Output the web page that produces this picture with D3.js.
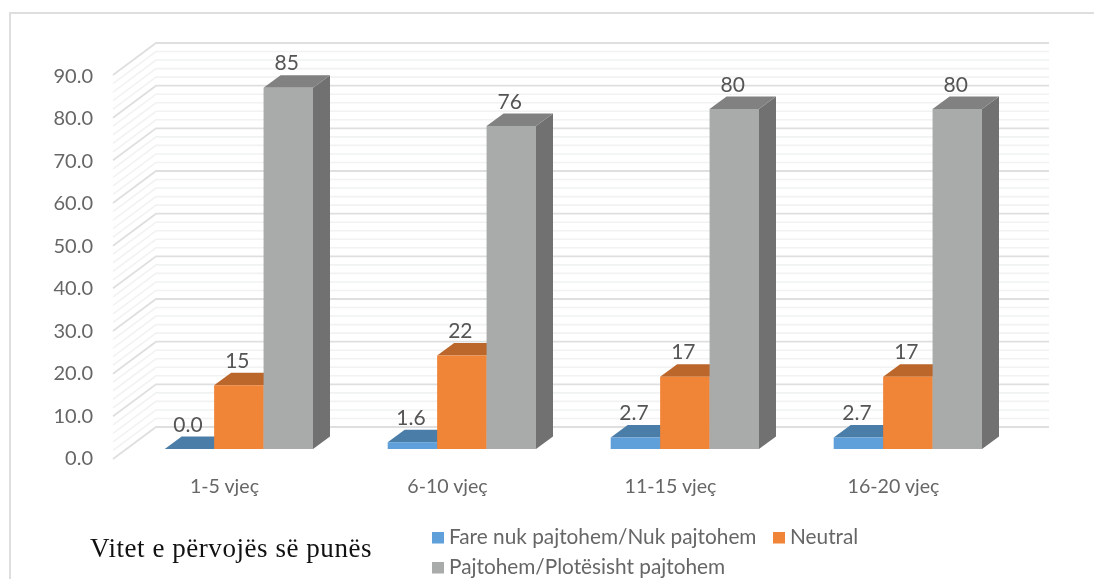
<!DOCTYPE html>
<html><head><meta charset="utf-8">
<script src="https://cdn.jsdelivr.net/npm/d3@7/dist/d3.min.js"></script>
<style>html,body{margin:0;padding:0;background:#fff;overflow:hidden}svg{display:block;filter:blur(0.45px)}</style>
</head><body><svg id="c" width="1094" height="579"></svg>
<script>
const categories = ["1-5 vjeç","6-10 vjeç","11-15 vjeç","16-20 vjeç"];
const seriesNames = ["Fare nuk pajtohem/Nuk pajtohem","Neutral","Pajtohem/Plotësisht pajtohem"];
const disagree = [0.0,1.6,2.7,2.7];
const neutral = [15,22,17,17];
const agree = [85,76,80,80];
const seriesValues = [disagree,neutral,agree];
const seriesDigits = [1,0,0];
const frontColors = ["#5fa0da","#f08537","#a9abaa"];
const topColors = ["#4a7ea9","#bb662a","#808180"];
const sideColors = ["#4a7ea9","#a85b25","#717171"];
const yMajor = [0,10,20,30,40,50,60,70,80,90];
const yMinor = [2,4,6,8,12,14,16,18,22,24,26,28,32,34,36,38,42,44,46,48,52,54,56,58,62,64,66,68,72,74,76,78,82,84,86,88];
const xAxisTitle = "Vitet e përvojës së punës";

const svg = d3.select("#c");
const sans = "Lato, 'Open Sans', sans-serif";
const wall = {dx:43, dy:-32}, barD = {dx:17, dy:-12.5};

const y = d3.scaleLinear().domain([0,90]).range([459,75]);
const yLabel = d3.scaleLinear().domain([0,90]).range([458,76]);
const yBar = d3.scaleLinear().domain([0,90]).range([449,66.5]);
const x0 = d3.scaleBand().domain(categories).range([113,1005]);
const x1 = d3.scaleBand().domain(d3.range(3)).range([51.7,200]);

// chart frame
svg.append("path").attr("d","M10,579V13H1094").attr("fill","none").attr("stroke","#dedede").attr("stroke-width",2);

// wall grid
const gridG = svg.append("g").attr("fill","none");
function grid(vals,color,w){
  gridG.append("g").selectAll("path").data(vals).join("path")
    .attr("d",v=>`M${x0.range()[0]},${y(v)}L${x0.range()[0]+wall.dx},${y(v)+wall.dy}H${x0.range()[1]+wall.dx+1}`)
    .attr("stroke",color).attr("stroke-width",w);
}
grid(yMinor,"#f1f2f2",1.6);
grid(yMajor,"#dfdfdf",1.8);

// y labels
svg.append("g").selectAll("text").data(yMajor).join("text")
  .attr("x",93).attr("y",v=>yLabel(v)).attr("dy","0.35em").attr("text-anchor","end")
  .attr("font-family",sans).attr("font-size",20).attr("fill","#666")
  .text(v=>v.toFixed(1));

// bars
const groups = svg.append("g").selectAll("g").data(categories).join("g")
  .attr("transform",c=>`translate(${x0(c)},0)`);
seriesValues.forEach((vals,s)=>{
  const w = x1.bandwidth(), bx = x1(s);
  const g = groups.append("g");
  g.append("path").attr("fill",sideColors[s])
    .attr("d",(c,i)=>`M${bx+w},${yBar(vals[i])}l${barD.dx},${barD.dy}V${yBar(0)+barD.dy}l${-barD.dx},${-barD.dy}Z`);
  g.append("path").attr("fill",topColors[s])
    .attr("d",(c,i)=>`M${bx},${yBar(vals[i])}l${barD.dx},${barD.dy}h${w}l${-barD.dx},${-barD.dy}Z`);
  g.append("rect").attr("fill",frontColors[s])
    .attr("x",bx).attr("width",w)
    .attr("y",(c,i)=>yBar(vals[i])).attr("height",(c,i)=>yBar(0)-yBar(vals[i]));
});
// data labels
seriesValues.forEach((vals,s)=>{
  groups.append("text").attr("text-anchor","middle")
    .attr("x",x1(s)+x1.bandwidth()/2-1.5)
    .attr("y",(c,i)=>yBar(vals[i])+barD.dy-5)
    .attr("font-family",sans).attr("font-size",21).attr("fill","#555")
    .text((c,i)=>vals[i].toFixed(seriesDigits[s]));
});

// category labels
svg.append("g").selectAll("text").data(categories).join("text")
  .attr("x",c=>x0(c)+x0.bandwidth()/2).attr("y",493).attr("text-anchor","middle")
  .attr("font-family",sans).attr("font-size",19.6).attr("fill","#666").text(c=>c);

// legend
const legendX = [432,773,432], legendY = [544,544,574], textOff = 17;
const lg = svg.append("g").selectAll("g").data(seriesNames).join("g");
lg.append("rect").attr("x",(d,i)=>legendX[i]).attr("y",(d,i)=>legendY[i]-12).attr("width",12).attr("height",11.5)
  .attr("fill",(d,i)=>frontColors[i]);
lg.append("text").attr("x",(d,i)=>legendX[i]+textOff).attr("y",(d,i)=>legendY[i])
  .attr("font-family",sans).attr("font-size",20.8).attr("fill","#666").text(d=>d);

// axis title
svg.append("text").attr("x",90).attr("y",557).attr("letter-spacing",0.55)
  .attr("font-family","'Liberation Serif',serif").attr("font-size",27).attr("fill","#111").text(xAxisTitle);
</script></body></html>
